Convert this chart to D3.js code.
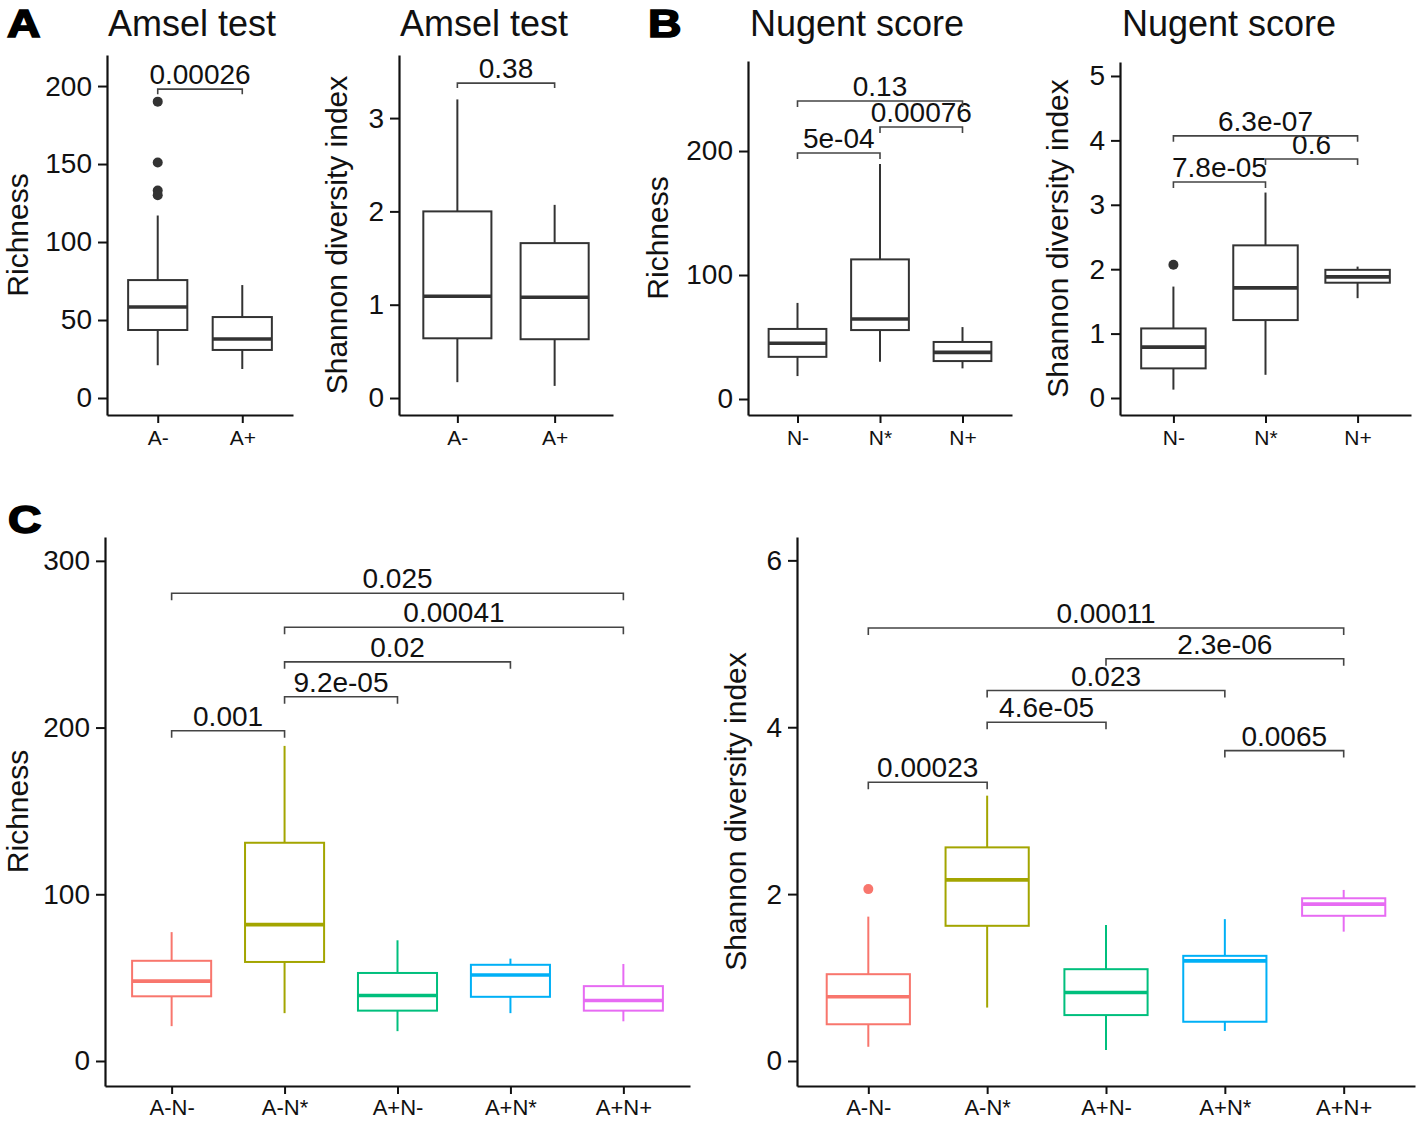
<!DOCTYPE html>
<html><head><meta charset="utf-8">
<script src="https://cdn.jsdelivr.net/npm/d3@7"></script>
<style>
body{margin:0;background:#fff}
text{font-family:"Liberation Sans",Arial,Helvetica,sans-serif}
</style>
</head><body>
<svg id="c" width="1418" height="1121"></svg>
<script>
// ---------- DATA ----------
const catsAmsel = ["A-","A+"];
const catsNugent = ["N-","N*","N+"];
const catsCombo = ["A-N-","A-N*","A+N-","A+N*","A+N+"];
const comboColors = ["#F8766D","#A3A500","#00BF7D","#00B0F6","#E76BF3"];

// box stats per category: [lower whisker, Q1, median, Q3, upper whisker]
const richAmsel = [[21,43.6,58.3,75.6,117],[18.6,30.8,37.8,51.9,72.4]];
const richAmselOut = [[0,190],[0,151],[0,133],[0,130]];
const richAmselBr = [[0,1,198,"0.00026"]];
const richAmselTicks = [0,50,100,150,200];

const shanAmsel = [[0.17,0.64,1.09,2.0,3.2],[0.13,0.63,1.08,1.66,2.07]];
const shanAmselOut = [];
const shanAmselBr = [[0,1,3.375,"0.38"]];
const shanAmselTicks = [0,1,2,3];

const richNugent = [[18.5,34,45,56.5,77.5],[30,55.6,64.5,112.6,189.5],[24.7,30.6,37.6,46,58]];
const richNugentOut = [];
const richNugentBr = [[0,1,198.4,"5e-04"],[1,2,219.4,"0.00076"],[0,2,240.3,"0.13"]];
const richNugentTicks = [0,100,200];

const shanNugent = [[0.13,0.46,0.79,1.08,1.73],[0.36,1.21,1.71,2.37,3.19],[1.55,1.79,1.88,1.99,2.04]];
const shanNugentOut = [[0,2.07]];
const shanNugentBr = [[0,1,3.354,"7.8e-05"],[1,2,3.71,"0.6"],[0,2,4.07,"6.3e-07"]];
const shanNugentTicks = [0,1,2,3,4,5];

const richCombo = [[20.9,38.8,47.9,60.1,77.3],[28.7,59.4,81.8,130.9,189],[17.9,30.2,39.3,52.8,72.4],[28.7,38.5,51.6,57.7,61.4],[23.8,30.2,36.3,44.9,58.2]];
const richComboOut = [];
const richComboBr = [[0,1,198.1,"0.001"],[1,2,218.5,"9.2e-05"],[1,3,239.4,"0.02"],[1,4,260.2,"0.00041"],[0,4,280.6,"0.025"]];
const richComboTicks = [0,100,200,300];

const shanCombo = [[0.17,0.44,0.77,1.04,1.73],[0.64,1.62,2.17,2.56,3.18],[0.13,0.55,0.82,1.10,1.63],[0.36,0.47,1.20,1.26,1.70],[1.55,1.74,1.88,1.95,2.05]];
const shanComboOut = [[0,2.06]];
const shanComboBr = [[0,1,3.34,"0.00023"],[1,2,4.06,"4.6e-05"],[1,3,4.44,"0.023"],[2,4,4.82,"2.3e-06"],[0,4,5.19,"0.00011"],[3,4,3.72,"0.0065"]];
const shanComboTicks = [0,2,4,6];

// ---------- LAYOUT ----------
const panels = [
 {cats:catsAmsel, box:richAmsel, out:richAmselOut, br:richAmselBr, ticks:richAmselTicks,
  x0:107,x1:293,y0:55,y1:415,dom:[-10.9,219.9],pad:0.6,ytitle:"Richness",ytx:28,title:"Amsel test",ttx:192,tip:5,xfs:21,xoff:7},
 {cats:catsAmsel, box:shanAmsel, out:shanAmselOut, br:shanAmselBr, ticks:shanAmselTicks,
  x0:399,x1:613,y0:55,y1:415,dom:[-0.182,3.676],pad:0.6,ytitle:"Shannon diversity index",ytx:347,title:"Amsel test",ttx:484,tip:5,xfs:21,xoff:7},
 {cats:catsNugent, box:richNugent, out:richNugentOut, br:richNugentBr, ticks:richNugentTicks,
  x0:748,x1:1012,y0:61,y1:415,dom:[-12.9,272.6],pad:0.6,ytitle:"Richness",ytx:668,title:"Nugent score",ttx:857,tip:6,xfs:21,xoff:7},
 {cats:catsNugent, box:shanNugent, out:shanNugentOut, br:shanNugentBr, ticks:shanNugentTicks,
  x0:1120,x1:1411,y0:62,y1:415,dom:[-0.264,5.217],pad:0.58,ytitle:"Shannon diversity index",ytx:1068,title:"Nugent score",ttx:1229,tip:6,xfs:21,xoff:7},
 {cats:catsCombo, box:richCombo, out:richComboOut, br:richComboBr, ticks:richComboTicks, colors:comboColors,
  x0:105,x1:690,y0:537,y1:1086,dom:[-15,314.3],pad:0.59,ytitle:"Richness",ytx:28,tip:7,xfs:22,xoff:5},
 {cats:catsCombo, box:shanCombo, out:shanComboOut, br:shanComboBr, ticks:shanComboTicks, colors:comboColors,
  x0:797,x1:1415,y0:537,y1:1086,dom:[-0.3,6.28],pad:0.6,ytitle:"Shannon diversity index",ytx:746,tip:7,xfs:22,xoff:5}
];

const svg = d3.select("#c");
const dark = "#333333";

function draw(p){
  const g = svg.append("g");
  const x = d3.scalePoint().domain(p.cats).range([p.x0,p.x1]).padding(p.pad);
  const y = d3.scaleLinear().domain(p.dom).range([p.y1,p.y0]);
  const bw = x.step()*0.7;
  const col = i => p.colors ? p.colors[i] : dark;

  // axes
  const ya = g.append("g").attr("transform",`translate(${p.x0},0)`)
    .call(d3.axisLeft(y).tickValues(p.ticks).tickSize(9).tickSizeOuter(0).tickPadding(6).tickFormat(d3.format("d")));
  ya.select(".domain").attr("stroke","#111").attr("stroke-width",2.2);
  ya.selectAll(".tick line").attr("stroke","#111").attr("stroke-width",2);
  ya.selectAll(".tick text").attr("fill","#111").style("font-size","28px").style("font-family","'Liberation Sans',Arial,sans-serif");

  const xa = g.append("g").attr("transform",`translate(0,${p.y1})`)
    .call(d3.axisBottom(x).tickSize(8).tickSizeOuter(0).tickPadding(p.xoff));
  xa.select(".domain").attr("stroke","#111").attr("stroke-width",2.2);
  xa.selectAll(".tick line").attr("stroke","#111").attr("stroke-width",2);
  xa.selectAll(".tick text").attr("fill","#111").style("font-size",p.xfs+"px").style("font-family","'Liberation Sans',Arial,sans-serif");

  // boxes
  p.box.forEach((b,i)=>{
    const cx = x(p.cats[i]);
    const c = col(i);
    g.append("line").attr("x1",cx).attr("x2",cx).attr("y1",y(b[0])).attr("y2",y(b[1])).attr("stroke",c).attr("stroke-width",2);
    g.append("line").attr("x1",cx).attr("x2",cx).attr("y1",y(b[3])).attr("y2",y(b[4])).attr("stroke",c).attr("stroke-width",2);
    g.append("rect").attr("x",cx-bw/2).attr("width",bw).attr("y",y(b[3])).attr("height",y(b[1])-y(b[3]))
      .attr("fill","#fff").attr("stroke",c).attr("stroke-width",2);
    g.append("line").attr("x1",cx-bw/2).attr("x2",cx+bw/2).attr("y1",y(b[2])).attr("y2",y(b[2])).attr("stroke",c).attr("stroke-width",3.6);
  });
  p.out.forEach(o=>{
    g.append("circle").attr("cx",x(p.cats[o[0]])).attr("cy",y(o[1])).attr("r",5).attr("fill",col(o[0]));
  });

  // brackets
  p.br.forEach(br=>{
    const xa1 = x(p.cats[br[0]]), xa2 = x(p.cats[br[1]]), yy = y(br[2]);
    g.append("path").attr("d",`M${xa1},${yy+p.tip}V${yy}H${xa2}V${yy+p.tip}`)
      .attr("fill","none").attr("stroke","#444").attr("stroke-width",1.6);
    g.append("text").attr("x",(xa1+xa2)/2).attr("y",yy-5).attr("text-anchor","middle")
      .style("font-size","28px").attr("fill","#111").text(br[3]);
  });

  // y title
  g.append("text").attr("transform",`translate(${p.ytx},${(p.y0+p.y1)/2}) rotate(-90)`)
    .attr("text-anchor","middle").style("font-size","30px").attr("fill","#111").text(p.ytitle);

  // title
  if(p.title){
    g.append("text").attr("x",p.ttx).attr("y",36).attr("text-anchor","middle")
      .style("font-size","36px").attr("fill","#111").text(p.title);
  }
}
panels.forEach(draw);

// panel letters
const letters = [["A",7,37],["B",648,37],["C",8,533]];
letters.forEach(l=>{
  svg.append("text").attr("transform",`translate(${l[1]},${l[2]}) scale(1.22,1)`)
    .style("font-size","38px").style("font-weight","bold").attr("fill","#000")
    .attr("stroke","#000").attr("stroke-width",1.6).text(l[0]);
});
</script>
</body></html>
